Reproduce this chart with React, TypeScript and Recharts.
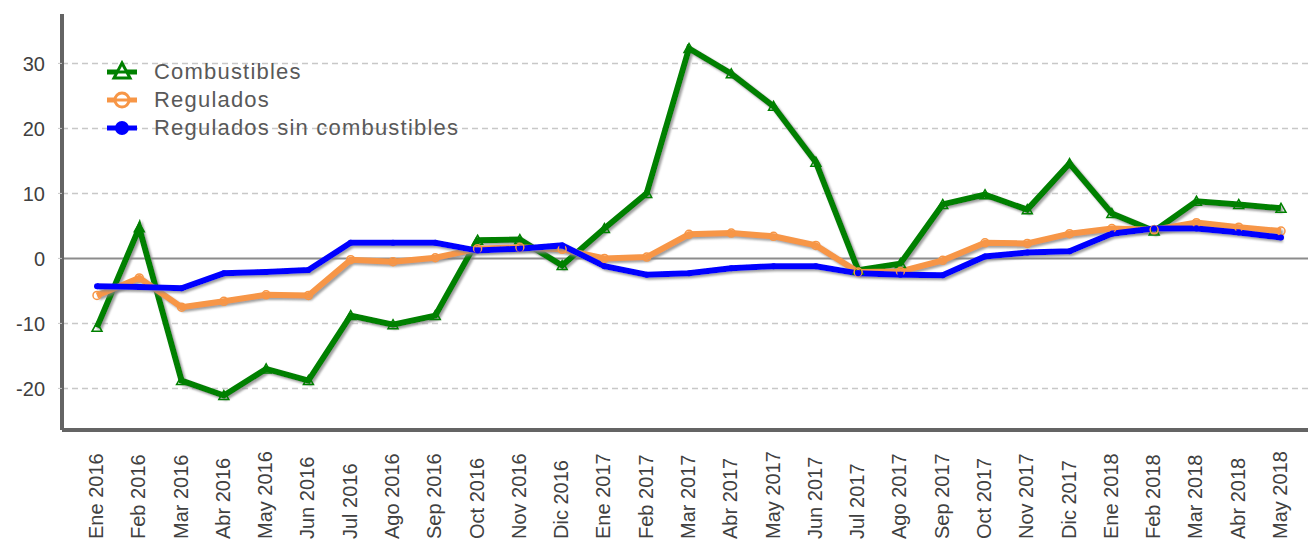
import {
  LineChart,
  Line,
  XAxis,
  YAxis,
  CartesianGrid,
  ReferenceLine,
} from "recharts"

const months = [
  "Ene 2016", "Feb 2016", "Mar 2016", "Abr 2016", "May 2016", "Jun 2016",
  "Jul 2016", "Ago 2016", "Sep 2016", "Oct 2016", "Nov 2016", "Dic 2016",
  "Ene 2017", "Feb 2017", "Mar 2017", "Abr 2017", "May 2017", "Jun 2017",
  "Jul 2017", "Ago 2017", "Sep 2017", "Oct 2017", "Nov 2017", "Dic 2017",
  "Ene 2018", "Feb 2018", "Mar 2018", "Abr 2018", "May 2018",
]

const combustibles = [
  -10.6, 4.7, -18.8, -21.1, -17, -18.8, -8.8, -10.2, -8.8, 2.8, 2.9, -1.1,
  4.6, 10, 32.3, 28.4, 23.4, 14.8, -1.8, -0.8, 8.3, 9.8, 7.5, 14.6,
  6.9, 4.2, 8.8, 8.3, 7.7,
]

const regulados = [
  -5.7, -3, -7.5, -6.6, -5.6, -5.7, -0.2, -0.5, 0.1, 1.5, 1.7, 1.4,
  0, 0.2, 3.7, 3.9, 3.4, 2, -2.1, -2, -0.3, 2.4, 2.3, 3.8,
  4.6, 4.4, 5.5, 4.8, 4.2,
]

const sinCombustibles = [
  -4.3, -4.4, -4.6, -2.3, -2.1, -1.8, 2.4, 2.4, 2.4, 1.2, 1.5, 2,
  -1.2, -2.5, -2.3, -1.5, -1.2, -1.2, -2.3, -2.5, -2.6, 0.3, 0.9, 1.1,
  3.8, 4.6, 4.6, 4, 3.2,
]

const yTicks = [-20, -10, 0, 10, 20, 30]
const gridValues = [-20, -10, 10, 20, 30]

const data = months.map((m, i) => ({
  name: m,
  combustibles: combustibles[i],
  regulados: regulados[i],
  sinComb: sinCombustibles[i],
}))

const GREEN = "#008000"
const ORANGE = "#f79646"
const BLUE = "#0000ff"
const FONT = "'Liberation Sans', Arial, sans-serif"

const MonthTick = ({ x, payload }: { x?: number; y?: number; payload?: { value: string } }) => (
  <text
    transform={`translate(${(x ?? 0) + 6},539) rotate(-90)`}
    textAnchor="start"
    fontSize={20}
    fontFamily={FONT}
    fill="#404040"
  >
    {payload?.value}
  </text>
)

const TriangleDot = (props: { cx?: number; cy?: number; index?: number }) => {
  const { cx = 0, cy = 0, index } = props
  return (
    <path
      key={`t-${index}`}
      d={`M${cx},${cy - 5} L${cx + 5},${cy + 4} L${cx - 5},${cy + 4} Z`}
      fill="none"
      stroke={GREEN}
      strokeWidth={1.5}
    />
  )
}

const RingDot = (props: { cx?: number; cy?: number; index?: number }) => {
  const { cx = 0, cy = 0, index } = props
  return <circle key={`r-${index}`} cx={cx} cy={cy} r={4} fill="none" stroke={ORANGE} strokeWidth={1.5} />
}

const BlueDot = (props: { cx?: number; cy?: number; index?: number }) => {
  const { cx = 0, cy = 0, index } = props
  return <circle key={`b-${index}`} cx={cx} cy={cy} r={3} fill={BLUE} />
}

const legendItems = [
  { label: "Combustibles", kind: "tri", color: GREEN },
  { label: "Regulados", kind: "ring", color: ORANGE },
  { label: "Regulados sin combustibles", kind: "dot", color: BLUE },
]

const ChartLegend = () => (
  <div style={{ position: "absolute", left: 104, top: 58, fontFamily: FONT }}>
    {legendItems.map((item) => (
      <div key={item.label} style={{ display: "flex", alignItems: "center", height: 28 }}>
        <svg width={36} height={24} style={{ marginRight: 14 }}>
          <line x1={3} y1={12} x2={33} y2={12} stroke={item.color} strokeWidth={5} />
          {item.kind === "tri" && (
            <path d="M18,3 L26,18 L10,18 Z" fill="white" stroke={item.color} strokeWidth={3} />
          )}
          {item.kind === "tri" && <line x1={8} y1={12} x2={28} y2={12} stroke={item.color} strokeWidth={3} />}
          {item.kind === "ring" && (
            <circle cx={18} cy={12} r={7} fill="white" stroke={item.color} strokeWidth={3} />
          )}
          {item.kind === "ring" && <line x1={8} y1={12} x2={28} y2={12} stroke={item.color} strokeWidth={3} />}
          {item.kind === "dot" && <circle cx={18} cy={12} r={7} fill={item.color} />}
        </svg>
        <span style={{ fontSize: 22, color: "#595959", letterSpacing: 1.2, whiteSpace: "nowrap" }}>
          {item.label}
        </span>
      </div>
    ))}
  </div>
)

export default function App() {
  return (
    <div style={{ position: "relative", width: 1308, height: 540, background: "#fff" }}>
      <style>{`body{margin:0}`}</style>
      <LineChart width={1308} height={540} data={data} margin={{ top: 14, right: 0, bottom: 0, left: 0 }}>
        <defs>
          <filter id="shadow" x="-5%" y="-5%" width="110%" height="120%">
            <feDropShadow dx={2} dy={2} stdDeviation={1} floodColor="#808080" floodOpacity={0.75} />
          </filter>
        </defs>
        <CartesianGrid
          vertical={false}
          horizontalValues={gridValues}
          stroke="#c8c8c8"
          strokeDasharray="6 4"
          strokeWidth={1.5}
        />
        <XAxis
          dataKey="name"
          interval={0}
          height={110}
          tick={<MonthTick />}
          tickLine={false}
          axisLine={{ stroke: "#646464", strokeWidth: 4 }}
          padding={{ left: 35, right: 27 }}
        />
        <YAxis
          width={62}
          domain={[-26.4, 37.6]}
          ticks={yTicks}
          allowDataOverflow
          tick={{ fontSize: 20, fill: "#404040", fontFamily: FONT }}
          tickLine={{ stroke: "#c8c8c8" }}
          tickSize={4}
          tickMargin={13}
          axisLine={{ stroke: "#646464", strokeWidth: 4 }}
        />
        <ReferenceLine y={0} stroke="#8c8c8c" strokeWidth={2} />
        <Line
          type="linear"
          dataKey="combustibles"
          name="Combustibles"
          stroke={GREEN}
          strokeWidth={6}
          dot={TriangleDot}
          activeDot={false}
          filter="url(#shadow)"
          isAnimationActive={false}
        />
        <Line
          type="linear"
          dataKey="regulados"
          name="Regulados"
          stroke={ORANGE}
          strokeWidth={6}
          dot={RingDot}
          activeDot={false}
          filter="url(#shadow)"
          isAnimationActive={false}
        />
        <Line
          type="linear"
          dataKey="sinComb"
          name="Regulados sin combustibles"
          stroke={BLUE}
          strokeWidth={6}
          dot={BlueDot}
          activeDot={false}
          filter="url(#shadow)"
          isAnimationActive={false}
        />
      </LineChart>
      <ChartLegend />
    </div>
  )
}
